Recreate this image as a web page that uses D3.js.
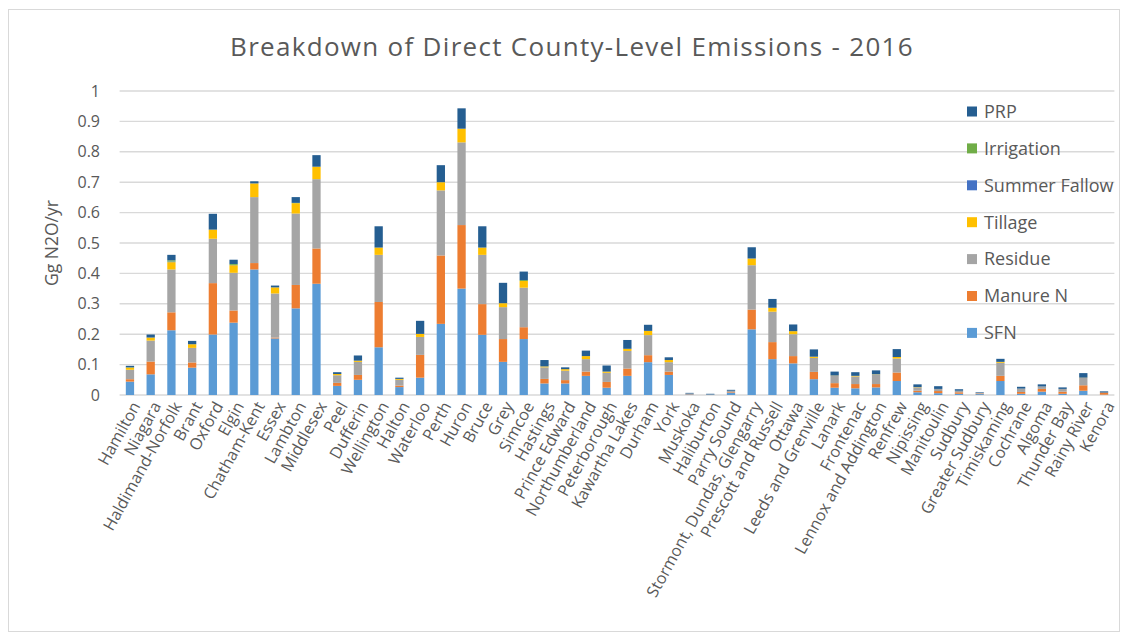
<!DOCTYPE html>
<html>
<head>
<meta charset="utf-8">
<script src="https://cdn.jsdelivr.net/npm/d3@7"></script>
<style>
  html, body { margin: 0; padding: 0; background: #fff; }
  svg { display: block; font-family: "Open Sans", sans-serif; }
</style>
</head>
<body>
<svg id="chart" width="1128" height="637"></svg>
<script>
// County names along the category axis
const counties = [
  "Hamilton", "Niagara", "Haldimand-Norfolk", "Brant", "Oxford", "Elgin",
  "Chatham-Kent", "Essex", "Lambton", "Middlesex", "Peel", "Dufferin",
  "Wellington", "Halton", "Waterloo", "Perth", "Huron", "Bruce", "Grey",
  "Simcoe", "Hastings", "Prince Edward", "Northumberland", "Peterborough",
  "Kawartha Lakes", "Durham", "York", "Muskoka", "Haliburton", "Parry Sound",
  "Stormont, Dundas, Glengarry", "Prescott and Russell", "Ottawa",
  "Leeds and Grenville", "Lanark", "Frontenac", "Lennox and Addington",
  "Renfrew", "Nipissing", "Manitoulin", "Sudbury", "Greater Sudbury",
  "Timiskaming", "Cochrane", "Algoma", "Thunder Bay", "Rainy River", "Kenora"
];

// Emission sources, Gg N2O/yr (one value per county, same order as above)
const sfn = [0.044, 0.068, 0.213, 0.090, 0.199, 0.238, 0.413, 0.186, 0.285, 0.366,
  0.030, 0.050, 0.157, 0.026, 0.057, 0.234, 0.350, 0.198, 0.109, 0.184,
  0.038, 0.038, 0.063, 0.024, 0.063, 0.108, 0.066, 0.002, 0.001, 0.008,
  0.216, 0.118, 0.104, 0.052, 0.024, 0.022, 0.025, 0.046, 0.009, 0.006,
  0.004, 0.003, 0.046, 0.004, 0.011, 0.004, 0.014, 0.001];
const manureN = [0.008, 0.042, 0.059, 0.017, 0.169, 0.040, 0.021, 0.003, 0.077, 0.116,
  0.010, 0.016, 0.149, 0.005, 0.075, 0.225, 0.209, 0.101, 0.075, 0.039,
  0.015, 0.011, 0.014, 0.019, 0.024, 0.023, 0.011, 0.001, 0.000, 0.002,
  0.065, 0.056, 0.024, 0.024, 0.015, 0.014, 0.011, 0.028, 0.005, 0.007,
  0.005, 0.002, 0.017, 0.006, 0.009, 0.007, 0.018, 0.007];
const residue = [0.031, 0.069, 0.141, 0.048, 0.146, 0.124, 0.217, 0.145, 0.235, 0.228,
  0.025, 0.043, 0.155, 0.019, 0.059, 0.214, 0.272, 0.162, 0.105, 0.130,
  0.038, 0.031, 0.041, 0.030, 0.058, 0.066, 0.031, 0.002, 0.001, 0.004,
  0.146, 0.100, 0.072, 0.046, 0.024, 0.025, 0.031, 0.046, 0.011, 0.007,
  0.005, 0.002, 0.043, 0.011, 0.008, 0.009, 0.024, 0.000];
const tillage = [0.007, 0.010, 0.024, 0.012, 0.030, 0.025, 0.045, 0.020, 0.034, 0.041,
  0.004, 0.004, 0.024, 0.003, 0.010, 0.027, 0.045, 0.024, 0.013, 0.022,
  0.003, 0.005, 0.010, 0.004, 0.007, 0.014, 0.007, 0.000, 0.000, 0.000,
  0.022, 0.013, 0.010, 0.004, 0.001, 0.002, 0.001, 0.005, 0.001, 0.000,
  0.000, 0.000, 0.003, 0.000, 0.000, 0.000, 0.001, 0.000];
const summerFallow = [0, 0, 0.002, 0, 0, 0.001, 0, 0, 0, 0,
  0, 0, 0, 0, 0, 0, 0, 0, 0, 0,
  0, 0, 0, 0, 0, 0, 0, 0, 0, 0,
  0, 0, 0, 0, 0, 0, 0, 0, 0, 0,
  0, 0, 0, 0, 0, 0, 0, 0];
const irrigation = [0.001, 0, 0.004, 0, 0, 0.003, 0, 0, 0.001, 0,
  0, 0, 0, 0, 0, 0, 0, 0, 0, 0.003,
  0, 0, 0, 0, 0, 0, 0, 0, 0, 0,
  0, 0, 0, 0, 0, 0, 0, 0, 0, 0,
  0, 0, 0, 0, 0, 0, 0, 0];
const prp = [0.005, 0.010, 0.018, 0.011, 0.052, 0.014, 0.007, 0.006, 0.019, 0.038,
  0.006, 0.017, 0.070, 0.004, 0.043, 0.056, 0.067, 0.070, 0.067, 0.028,
  0.021, 0.006, 0.018, 0.020, 0.029, 0.020, 0.009, 0.002, 0.002, 0.003,
  0.037, 0.029, 0.022, 0.024, 0.013, 0.012, 0.013, 0.026, 0.009, 0.009,
  0.005, 0.002, 0.010, 0.006, 0.007, 0.005, 0.015, 0.004];

// Axis ticks
const yTicks = [0, 0.1, 0.2, 0.3, 0.4, 0.5, 0.6, 0.7, 0.8, 0.9, 1];

// Series in stacking order (bottom to top) with their fills
const seriesNames = ["SFN", "Manure N", "Residue", "Tillage", "Summer Fallow", "Irrigation", "PRP"];
const seriesValues = [sfn, manureN, residue, tillage, summerFallow, irrigation, prp];
const seriesColors = ["#5B9BD5", "#ED7D31", "#A5A5A5", "#FFC000", "#4472C4", "#70AD47", "#255E91"];

const rows = counties.map((c, i) => {
  const r = { county: c };
  seriesNames.forEach((s, k) => { r[s] = seriesValues[k][i]; });
  return r;
});

const svg = d3.select("#chart");
const textColor = "#595959";
const gridColor = "#D9D9D9";

// Outer chart frame
svg.append("rect")
  .attr("x", 8.5).attr("y", 9.5)
  .attr("width", 1111).attr("height", 622)
  .attr("fill", "#fff").attr("stroke", gridColor).attr("stroke-width", 1);

const plot = { left: 119.6, right: 1114.4, top: 91, bottom: 395 };

const x = d3.scaleBand()
  .domain(counties)
  .range([plot.left, plot.right])
  .paddingInner(0.6)
  .paddingOuter(0.3);

const y = d3.scaleLinear().domain([0, 1]).range([plot.bottom, plot.top]);

// Horizontal gridlines
svg.append("g")
  .selectAll("line")
  .data(yTicks)
  .join("line")
  .attr("x1", plot.left).attr("x2", plot.right)
  .attr("y1", d => y(d)).attr("y2", d => y(d))
  .attr("stroke", gridColor).attr("stroke-width", 1.4);

// Y axis tick labels
const yAxis = d3.axisLeft(y).tickValues(yTicks).tickSize(0).tickPadding(0)
  .tickFormat(d => d === 0 ? "0" : d === 1 ? "1" : d3.format(".1f")(d));
const yg = svg.append("g").attr("transform", `translate(100,0)`).call(yAxis);
yg.select(".domain").remove();
yg.selectAll("text")
  .attr("fill", textColor)
  .style("font-family", "'Open Sans', sans-serif")
  .style("font-size", "16px");

// Stacked bars
const stacked = d3.stack().keys(seriesNames)(rows);
svg.append("g")
  .selectAll("g")
  .data(stacked)
  .join("g")
  .attr("fill", (d, i) => seriesColors[i])
  .selectAll("rect")
  .data(d => d)
  .join("rect")
  .attr("x", d => x(d.data.county))
  .attr("width", x.bandwidth())
  .attr("y", d => y(d[1]))
  .attr("height", d => Math.max(0, y(d[0]) - y(d[1])));

// Category labels, rotated
const xAxis = d3.axisBottom(x).tickSize(0).tickPadding(0);
const xg = svg.append("g").attr("transform", `translate(0,${plot.bottom})`).call(xAxis);
xg.select(".domain").remove();
xg.selectAll("text")
  .attr("fill", textColor)
  .style("font-family", "'Open Sans', sans-serif")
  .style("font-size", "16.2px")
  .attr("text-anchor", "end")
  .attr("dy", "0.35em")
  .attr("transform", "translate(6,8) rotate(-61)");

// Chart title
svg.append("text")
  .attr("x", 572).attr("y", 56)
  .attr("text-anchor", "middle")
  .attr("fill", textColor)
  .style("font-size", "26px")
  .style("letter-spacing", "1.3px")
  .text("Breakdown of Direct County-Level Emissions - 2016");

// Y axis title
svg.append("text")
  .attr("transform", `translate(58,${(plot.top + plot.bottom) / 2}) rotate(-90)`)
  .attr("text-anchor", "middle")
  .attr("fill", textColor)
  .style("font-size", "17.5px")
  .text("Gg N2O/yr");

// Legend, top series first
const legendOrder = seriesNames.map((s, i) => i).reverse();
const legend = svg.append("g")
  .selectAll("g")
  .data(legendOrder)
  .join("g")
  .attr("transform", (d, j) => `translate(967,${111.5 + j * 36.9})`);
legend.append("rect")
  .attr("x", 0).attr("y", -5)
  .attr("width", 10).attr("height", 10)
  .attr("fill", d => seriesColors[d]);
legend.append("text")
  .attr("x", 17).attr("y", 0).attr("dy", "0.35em")
  .attr("fill", textColor)
  .style("font-size", "18px")
  .text(d => seriesNames[d]);
</script>
</body>
</html>
